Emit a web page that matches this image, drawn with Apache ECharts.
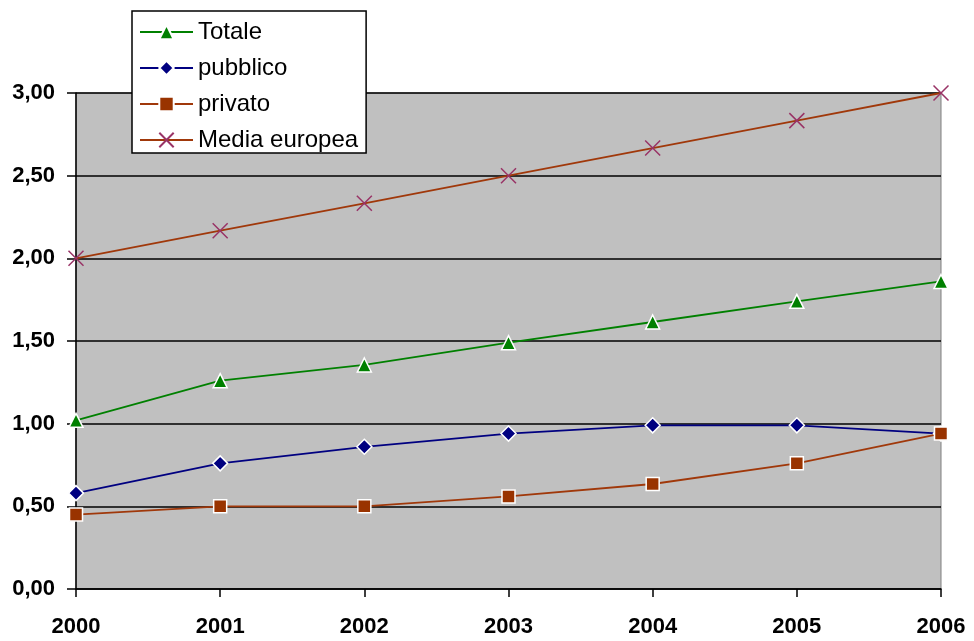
<!DOCTYPE html>
<html>
<head>
<meta charset="utf-8">
<script src="https://cdn.jsdelivr.net/npm/echarts@6/dist/echarts.min.js"></script>
<style>
  html, body { margin: 0; padding: 0; background: #fff; }
  #chart { width: 974px; height: 641px; }
</style>
</head>
<body>
<div id="chart"></div>
<script>
// anni
const years = ['2000', '2001', '2002', '2003', '2004', '2005', '2006']
// serie
const totale = [1.02, 1.26, 1.355, 1.49, 1.615, 1.74, 1.86]
const pubblico = [0.58, 0.76, 0.86, 0.94, 0.99, 0.99, 0.94]
const privato = [0.45, 0.50, 0.50, 0.56, 0.635, 0.76, 0.94]
const mediaEuropea = [2.00, 2.167, 2.333, 2.50, 2.667, 2.833, 3.00]

const chart = echarts.init(document.getElementById('chart'))
const font = 'Arial, "Liberation Sans", sans-serif'

const lineSeries = (name, data, color, symbol, symbolSize, markerColor, extra) => Object.assign({
  name: name,
  type: 'line',
  data: data,
  symbol: symbol,
  symbolSize: symbolSize,
  showAllSymbol: true,
  lineStyle: { color: color, width: 1.8 },
  itemStyle: { color: markerColor, borderColor: '#fff', borderWidth: 1.5 }
}, extra || {})

chart.setOption({
  animation: false,
  grid: {
    left: 76,
    right: 33,
    top: 93,
    bottom: 52,
    show: true,
    backgroundColor: '#C0C0C0',
    borderColor: '#808080',
    borderWidth: 1
  },
  legend: {
    orient: 'vertical',
    left: 132,
    top: 11,
    padding: [9, 8, 1, 7],
    itemGap: 12,
    itemWidth: 53,
    itemHeight: 18,
    backgroundColor: '#fff',
    borderColor: '#000',
    borderWidth: 1.5,
    borderRadius: 0,
    textStyle: { fontFamily: font, fontSize: 24, color: '#000' },
    data: ['Totale', 'pubblico', 'privato', 'Media europea']
  },
  xAxis: {
    type: 'category',
    data: years,
    boundaryGap: false,
    axisLine: { lineStyle: { color: '#000', width: 1.5 } },
    axisTick: { show: true, length: 8, lineStyle: { color: '#000', width: 1.5 } },
    axisLabel: { fontFamily: font, fontSize: 22, fontWeight: 'bold', color: '#000', margin: 27 },
    splitLine: { show: false }
  },
  yAxis: {
    type: 'value',
    min: 0,
    max: 3,
    interval: 0.5,
    axisLine: { show: true, lineStyle: { color: '#000', width: 1.5 } },
    axisTick: { show: true, length: 9, lineStyle: { color: '#000', width: 1.5 } },
    axisLabel: {
      fontFamily: font, fontSize: 22, fontWeight: 'bold', color: '#000', margin: 21,
      formatter: v => v.toFixed(2).replace('.', ',')
    },
    splitLine: { show: true, lineStyle: { color: '#000', width: 1.5 } }
  },
  series: [
    lineSeries('Totale', totale, '#008000', 'triangle', 14, '#008000'),
    lineSeries('pubblico', pubblico, '#000080', 'diamond', 15, '#000080'),
    lineSeries('privato', privato, '#A0380A', 'rect', 13, '#993300'),
    lineSeries('Media europea', mediaEuropea, '#A0380A', 'path://M0,0L10,10M10,0L0,10', 15, 'none', {
      itemStyle: { color: 'none', borderColor: '#993366', borderWidth: 1.5 }
    })
  ]
})
</script>
</body>
</html>
